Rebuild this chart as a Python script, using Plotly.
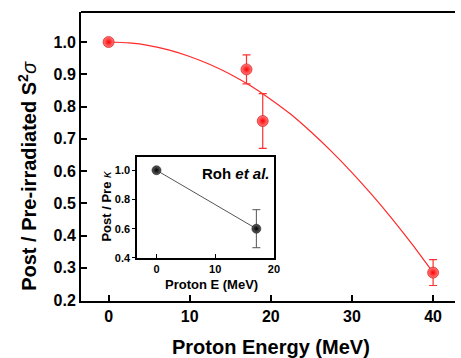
import plotly.graph_objects as go

# Main data (proton energy vs post/pre S^2 sigma)
energy = [0, 17, 19, 40]
ratio = [1.0, 0.915, 0.755, 0.285]
ratio_err = [0.0, 0.045, 0.085, 0.04]

# Fit curve
fit_x = [0, 2.5, 5, 7.5, 10, 12.5, 15, 17.5, 20, 22.5, 25, 27.5, 30, 32.5, 35, 37.5, 40]
fit_y = [1.0, 0.997, 0.989, 0.975, 0.955, 0.93, 0.90, 0.864, 0.822, 0.775, 0.72,
         0.66, 0.595, 0.525, 0.45, 0.37, 0.285]

# Inset data (Roh et al.)
inset_x = [0, 17]
inset_y = [1.0, 0.6]
inset_err = [0.0, 0.13]

main_xticks = [0, 10, 20, 30, 40]
main_yticks = [0.2, 0.3, 0.4, 0.5, 0.6, 0.7, 0.8, 0.9, 1.0]
inset_xticks = [0, 10, 20]
inset_yticks = [0.4, 0.6, 0.8, 1.0]

FONT = "Liberation Sans, Arial, sans-serif"

fig = go.Figure()
fig.add_trace(go.Scatter(x=fit_x, y=fit_y, mode="lines",
                         line=dict(color="#ff2a2a", width=1.2, shape="spline", smoothing=0.6),
                         showlegend=False, hoverinfo="skip"))
fig.add_trace(go.Scatter(x=energy, y=ratio, mode="markers",
                         error_y=dict(type="data", array=ratio_err, color="#ff3030",
                                      thickness=1.2, width=4),
                         marker=dict(size=11, color="#ff8080",
                                     gradient=dict(type="radial", color="#ff0000"),
                                     line=dict(width=0.6, color="#d00000")),
                         showlegend=False))

fig.add_trace(go.Scatter(x=inset_x, y=inset_y, mode="lines+markers",
                         xaxis="x2", yaxis="y2",
                         line=dict(color="#555555", width=1),
                         error_y=dict(type="data", array=inset_err, color="#555555",
                                      thickness=1, width=4),
                         marker=dict(size=9, color="#606060",
                                     gradient=dict(type="radial", color="#000000"),
                                     line=dict(width=0.5, color="#000000")),
                         showlegend=False))

fig.update_layout(
    width=461, height=358,
    margin=dict(l=81, r=0, t=12, b=57),
    paper_bgcolor="white", plot_bgcolor="white",
    font=dict(family=FONT, color="black"),
    xaxis=dict(range=[-3.4, 42.7], tickvals=main_xticks,
               ticks="inside", ticklen=6, tickwidth=1.5, tickcolor="black",
               showline=True, linewidth=2, linecolor="black", mirror=False,
               showgrid=False, zeroline=False,
               tickfont=dict(size=16, family=FONT, weight="bold")),
    yaxis=dict(range=[0.197, 1.093], tickvals=main_yticks, tickformat=".1f",
               ticks="inside", ticklen=6, tickwidth=1.5, tickcolor="black",
               showline=True, linewidth=2, linecolor="black",
               showgrid=False, zeroline=False,
               tickfont=dict(size=16, family=FONT, weight="bold")),
    xaxis2=dict(domain=[0.15, 0.516], anchor="y2", range=[-3.3, 20],
                tickvals=inset_xticks, ticks="inside", ticklen=4, tickwidth=1.2,
                tickcolor="black", showline=True, linewidth=1.5, linecolor="black",
                mirror=True, showgrid=False, zeroline=False,
                tickfont=dict(size=11, family=FONT, weight="bold")),
    yaxis2=dict(domain=[0.149, 0.498], anchor="x2", range=[0.4, 1.09],
                tickvals=inset_yticks, tickformat=".1f", ticks="outside", ticklen=3,
                tickwidth=1.2, tickcolor="black", showline=True, linewidth=1.5,
                linecolor="black", mirror=True, showgrid=False, zeroline=False,
                tickfont=dict(size=11, family=FONT, weight="bold")),
)

# Top border of main frame
fig.add_shape(type="line", xref="paper", yref="paper", x0=0, x1=1, y0=1, y1=1,
              line=dict(color="black", width=2))

ann = [
    dict(text="<b>Proton Energy (MeV)</b>", x=(274 - 81) / 380, y=(301 - 347) / 289,
         font=dict(size=20)),
    dict(text="<b>Post / Pre-irradiated S<sup>2</sup></b><i>σ</i>", x=(26 - 81) / 380,
         y=(301 - 176) / 289, textangle=-90, font=dict(size=20)),
    dict(text="<b>Proton E (MeV)</b>", x=(214 - 81) / 380, y=(301 - 284) / 289,
         font=dict(size=13)),
    dict(text="<b>Post / Pre</b> <i>κ</i>", x=(106 - 81) / 380, y=(301 - 206) / 289,
         textangle=-90, font=dict(size=13)),
    dict(text="<b>Roh <i>et al.</i></b>", x=(275 - 81) / 380, y=(301 - 173) / 289,
         xanchor="right", font=dict(size=15)),
]
for a in ann:
    a.setdefault("xanchor", "center")
    fig.add_annotation(xref="paper", yref="paper", showarrow=False, yanchor="middle",
                       font_family=FONT, font_color="black", **a)

fig.write_html("out.html")
